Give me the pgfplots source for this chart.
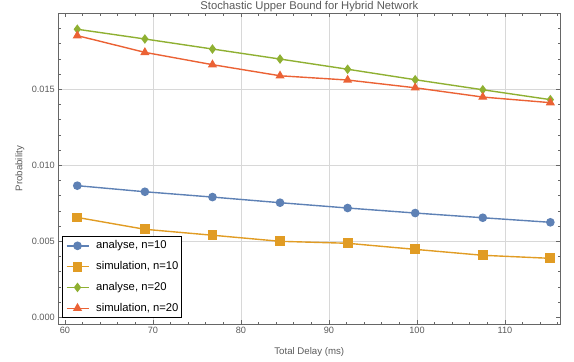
\documentclass[border=0pt]{standalone}
\usepackage{fontspec}
\setmainfont{Liberation Sans}
\usepackage{pgfplots}
\pgfplotsset{compat=1.18}
\definecolor{mblue}{RGB}{94,129,181}
\definecolor{morange}{RGB}{225,156,36}
\definecolor{mgreen}{RGB}{143,176,50}
\definecolor{mred}{RGB}{235,98,53}
\definecolor{framegray}{RGB}{102,102,102}
\definecolor{labelgray}{RGB}{90,90,90}
\definecolor{gridgray}{RGB}{216,216,216}
\begin{document}
\begin{tikzpicture}
\useasboundingbox (-58.3bp,-38bp) rectangle (515.7bp,324bp);
\begin{axis}[
  scale only axis, width=502bp, height=310.7bp,
  xmin=59.24, xmax=116.29, ymin=-0.00044, ymax=0.0200,
  axis line style={framegray, line width=0.8bp},
  tick style={framegray, line width=0.6bp},
  tick align=inside,
  major tick length=4bp, minor tick length=2.5bp,
  xtick={60}, extra x ticks={70,80,90,100,110},
  minor xtick={60,62,64,66,68,70,72,74,76,78,80,82,84,86,88,90,92,94,96,98,100,102,104,106,108,110,112,114,116},
  ytick={0}, extra y ticks={0.005,0.01,0.015},
  minor ytick={0,0.001,0.002,0.003,0.004,0.005,0.006,0.007,0.008,0.009,0.010,0.011,0.012,0.013,0.014,0.015,0.016,0.017,0.018,0.019,0.020},
  extra x tick style={grid=major},
  extra y tick style={grid=major, scaled y ticks=false},
  major grid style={gridgray, line width=0.8bp},
  scaled y ticks=false,
  /pgf/number format/assume math mode=true,
  yticklabel style={/pgf/number format/.cd, fixed, fixed zerofill, precision=3},
  ticklabel style={font=\fontsize{9.2}{11}\selectfont, text=labelgray},
  every axis title shift=0pt,
  title={Stochastic Upper Bound for Hybrid Network},
  title style={at={(axis description cs:0.5,1.0203)}, anchor=center, font=\fontsize{11.3}{13}\selectfont, text=labelgray},
  xlabel={Total Delay (ms)},
  xlabel style={at={(axis description cs:0.5,-0.0901)}, anchor=center, font=\fontsize{9.7}{12}\selectfont, text=labelgray},
  ylabel={Probability},
  ylabel style={at={(axis description cs:-0.0763,0.5)}, anchor=center, font=\fontsize{9.7}{12}\selectfont, text=labelgray},
  legend image code/.code={\draw[mark repeat=2,mark phase=2,#1] plot coordinates {(0bp,0bp) (11bp,0bp) (22bp,0bp)};},
  legend style={at={(axis description cs:0.008,0.0183)}, anchor=south west,
    draw=black, line width=1bp, fill=white,
    font=\fontsize{11.3}{13}\selectfont,
    inner xsep=3bp, inner ysep=4.3bp, row sep=10.2bp,
    nodes={inner sep=0pt, text height=8.2bp, text depth=2.4bp},
    /tikz/every odd column/.append style={column sep=7bp}},
  legend cell align=left,
]
\addplot[mblue, line width=1.4bp, mark=*, mark size=3.6bp, mark options={fill=mblue, draw=mblue}] coordinates {
(61.40,0.00866) (69.08,0.00826) (76.76,0.00791) (84.44,0.00754) (92.12,0.00719) (99.80,0.00686) (107.48,0.00655) (115.16,0.00625)};
\addlegendentry{analyse, n=10}
\addplot[morange, line width=1.4bp, mark=square*, mark size=4.2bp, mark options={fill=morange, draw=morange}] coordinates {
(61.40,0.00657) (69.08,0.00579) (76.76,0.00540) (84.44,0.00500) (92.12,0.00487) (99.80,0.00447) (107.48,0.00408) (115.16,0.00388)};
\addlegendentry{simulation, n=10}
\addplot[mgreen, line width=1.4bp, mark=diamond*, mark size=3.7bp, mark options={fill=mgreen, draw=mgreen}] coordinates {
(61.40,0.01895) (69.08,0.01831) (76.76,0.01765) (84.44,0.01699) (92.12,0.01632) (99.80,0.01563) (107.48,0.01497) (115.16,0.01432)};
\addlegendentry{analyse, n=20}
\addplot[mred, line width=1.4bp, mark=triangle*, mark size=3.9bp, mark options={fill=mred, draw=mred}] coordinates {
(61.40,0.01853) (69.08,0.01743) (76.76,0.01662) (84.44,0.01589) (92.12,0.01561) (99.80,0.01510) (107.48,0.01449) (115.16,0.01412)};
\addlegendentry{simulation, n=20}
\end{axis}
\end{tikzpicture}
\end{document}
